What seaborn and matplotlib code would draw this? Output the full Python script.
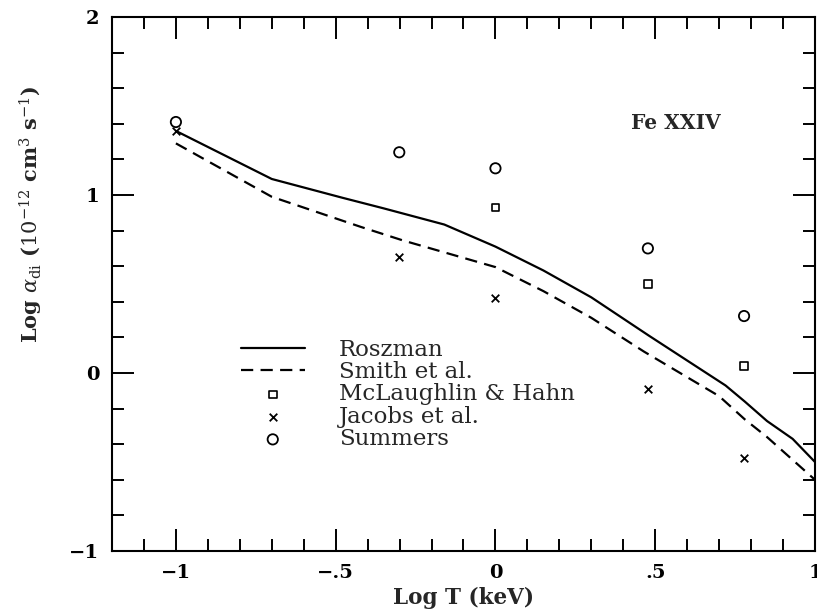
import numpy as np
import pandas as pd
import matplotlib
matplotlib.use("Agg")
import matplotlib.pyplot as plt
from matplotlib.ticker import MultipleLocator, FuncFormatter
import seaborn as sns

# ---- data ----
rosz_x = [-1.0, -0.7, -0.48, -0.35, -0.16, 0.0, 0.15, 0.3, 0.48, 0.6, 0.72, 0.78, 0.85, 0.93, 1.0]
rosz_y = [1.36, 1.09, 0.985, 0.925, 0.834, 0.71, 0.576, 0.425, 0.21, 0.07, -0.07, -0.16, -0.27, -0.37, -0.50]
smith_x = [-1.0, -0.7, -0.42, -0.29, 0.0, 0.15, 0.3, 0.465, 0.7, 0.78, 0.85, 1.0]
smith_y = [1.29, 0.99, 0.82, 0.745, 0.595, 0.46, 0.31, 0.12, -0.13, -0.26, -0.36, -0.60]
logT = [-1.0, -0.301, 0.0, 0.477, 0.778]
mclaughlin_x = [0.0, 0.477, 0.778]
mclaughlin_y = [0.93, 0.50, 0.04]
jacobs_y = [1.36, 0.65, 0.42, -0.09, -0.48]
summers_y = [1.41, 1.24, 1.15, 0.70, 0.32]

sns.set_theme(style="ticks")
plt.rcParams["font.family"] = ["DejaVu Serif"]
plt.rcParams["mathtext.fontset"] = "dejavuserif"

W, H = 817, 611
fig = plt.figure(figsize=(W / 100, H / 100), dpi=100)
left, right, top, bottom = 112, 815, 17, 551
ax = fig.add_axes([left / W, 1 - bottom / H, (right - left) / W, (bottom - top) / H])

sns.lineplot(x=rosz_x, y=rosz_y, ax=ax, color="black", lw=1.6, label="Roszman", sort=False)
sns.lineplot(x=smith_x, y=smith_y, ax=ax, color="black", lw=1.6, label="Smith et al.", sort=False,
             dashes=False)
ax.lines[-1].set_dashes((5.5, 3.3))
sns.scatterplot(x=mclaughlin_x, y=mclaughlin_y, ax=ax, marker="s", s=30, facecolors="none",
                edgecolor="black", linewidth=1.2, label="McLaughlin & Hahn")
sns.scatterplot(x=logT, y=jacobs_y, ax=ax, marker="x", s=30, color="black",
                linewidth=1.3, label="Jacobs et al.")
sns.scatterplot(x=logT, y=summers_y, ax=ax, marker="o", s=55, facecolors="none",
                edgecolor="black", linewidth=1.3, label="Summers")

ax.set_xlim(-1.2, 1.0)
ax.set_ylim(-1.0, 2.0)
ax.xaxis.set_major_locator(MultipleLocator(0.5))
ax.xaxis.set_minor_locator(MultipleLocator(0.1))
ax.yaxis.set_major_locator(MultipleLocator(1.0))
ax.yaxis.set_minor_locator(MultipleLocator(0.2))

def fmt(v, pos):
    if abs(v - round(v)) < 1e-9:
        s = "%d" % round(v)
    else:
        s = ("%.1f" % v).replace("0.", ".")
    return s.replace("-", "\u2212")

ax.xaxis.set_major_formatter(FuncFormatter(fmt))
ax.yaxis.set_major_formatter(FuncFormatter(fmt))
ax.tick_params(which="both", direction="in", top=True, right=True, width=1.4, colors="black",
               labelsize=14, pad=9)
ax.tick_params(which="major", length=16)
ax.tick_params(which="minor", length=8.5)
for lab in ax.get_xticklabels() + ax.get_yticklabels():
    lab.set_fontweight("bold")
for sp in ax.spines.values():
    sp.set_linewidth(1.5)
    sp.set_color("black")

ax.set_xlabel("Log T (keV)", fontsize=15.5, fontweight="bold", labelpad=4)
ax.set_ylabel(r"Log $\alpha_{\rm di}$ ($10^{-12}$ cm$^{3}$ s$^{-1}$)", fontsize=15,
              fontweight="bold", labelpad=6)
ax.yaxis.set_label_coords(-0.095, 0.63)

ax.text(0.424, 1.405, "Fe XXIV", fontsize=14.5, fontweight="bold", va="center", ha="left")

leg = ax.legend(loc="upper left", bbox_to_anchor=(0.17, 0.415), frameon=False, fontsize=16.5,
                handlelength=2.8, handletextpad=1.5, labelspacing=0.02, borderaxespad=0)

fig.savefig("out.png", dpi=100)
